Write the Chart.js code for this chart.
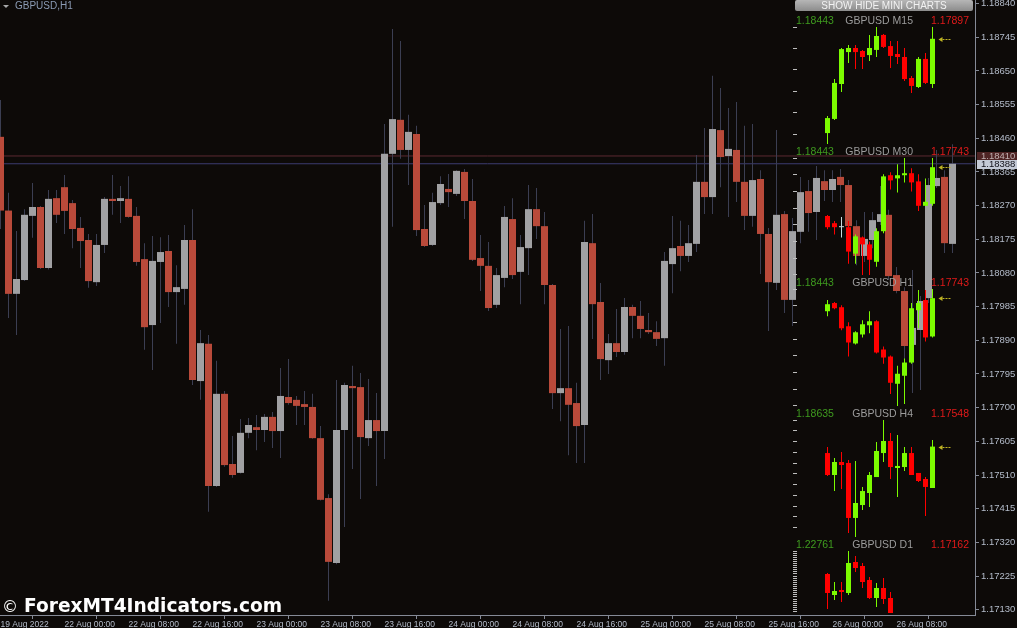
<!DOCTYPE html>
<html>
<head>
<meta charset="utf-8">
<title>GBPUSD,H1</title>
<script src="https://cdn.jsdelivr.net/npm/chart.js@4.4.1/dist/chart.umd.min.js"></script>
<style>
  html, body { margin: 0; padding: 0; background: #0d0a08; }
  #wrap { position: relative; width: 1017px; height: 628px; overflow: hidden; background: #0d0a08; font-family: "Liberation Sans", Arial, sans-serif; }
  #main { position: absolute; left: 0; top: 0; }
  .mini { position: absolute; left: 790px; width: 185px; overflow: hidden; }
  .mini canvas { position: absolute; left: 0; top: 0; }
  .hdr { position: absolute; font-size: 10.5px; line-height: 12px; white-space: nowrap; }
  .hi { left: 796px; color: #3f9b1f; }
  .nm { right: 104px; color: #9c9c9c; text-align: right; }
  .lo { right: 48px; color: #e21a1a; text-align: right; }
  #btn { position: absolute; left: 795px; top: 0; width: 178px; height: 11px; border-radius: 2px; background: linear-gradient(#b6b6b6, #8c8c8c); color: #f2f2f2; font-size: 10px; line-height: 11px; text-align: center; }
  #title { position: absolute; left: 15px; top: 0px; font-size: 10px; line-height: 12px; color: #8b9bb4; }
  #tri { position: absolute; left: 3px; top: 5px; width: 0; height: 0; border-left: 3px solid transparent; border-right: 3px solid transparent; border-top: 3px solid #a8a8a8; }
  #copy { position: absolute; left: 2px; top: 596px; color: #fff; font-family: "DejaVu Sans", sans-serif; font-size: 16px; line-height: 22px; }
  #wm { position: absolute; left: 24px; top: 595px; color: #fff; font-family: "DejaVu Sans", sans-serif; font-weight: bold; font-size: 18.6px; line-height: 22px; white-space: nowrap; }
</style>
</head>
<body>
<div id="wrap">
  <canvas id="main" width="1017" height="628"></canvas>
  <div id="tri"></div>
  <div id="title">GBPUSD,H1</div>
  <div id="btn">SHOW HIDE MINI CHARTS</div>
  <div id="minis"></div>
  <div id="copy">©</div>
  <div id="wm">ForexMT4Indicators.com</div>
</div>
<script>
// H1 candles, 19 Aug 16:00 .. 26 Aug 15:00
const opens = [
  1.18464, 1.18256, 1.18021, 1.18060, 1.18241, 1.18266, 1.18094, 1.18291, 1.18322, 1.18277,
  1.18207, 1.18173, 1.18054, 1.18159, 1.18289, 1.18283, 1.18289, 1.18241, 1.18119, 1.17933,
  1.18111, 1.18142, 1.18026, 1.18035, 1.18173, 1.17775, 1.17880, 1.17479, 1.17739, 1.17541,
  1.17516, 1.17629, 1.17645, 1.17637, 1.17674, 1.17634, 1.17730, 1.17722, 1.17710, 1.17702,
  1.17614, 1.17445, 1.17262, 1.17637, 1.17761, 1.17758, 1.17614, 1.17665, 1.17634, 1.18416,
  1.18512, 1.18427, 1.18472, 1.18204, 1.18159, 1.18277, 1.18317, 1.18303, 1.18365, 1.18283,
  1.18122, 1.18100, 1.17990, 1.18066, 1.18232, 1.18083, 1.18150, 1.18260, 1.18212, 1.18046,
  1.17741, 1.17755, 1.17713, 1.17651, 1.18164, 1.17998, 1.17834, 1.17882, 1.17857, 1.17984,
  1.17959, 1.17919, 1.17913, 1.17896, 1.18105, 1.18156, 1.18128, 1.18162, 1.18337, 1.18294,
  1.18483, 1.18410, 1.18427, 1.18337, 1.18241, 1.18345, 1.18190, 1.18052, 1.18246, 1.18004,
  1.18196, 1.18311, 1.18252, 1.18339, 1.18314, 1.18351, 1.18328, 1.18212, 1.18128, 1.18173,
  1.18224, 1.18244, 1.18074, 1.18029, 1.17877, 1.17919, 1.18009, 1.18325, 1.18351, 1.18162
];
const highs = [
  1.18568, 1.18306, 1.18198, 1.18260, 1.18334, 1.18269, 1.18314, 1.18314, 1.18356, 1.18286,
  1.18238, 1.18190, 1.18190, 1.18294, 1.18356, 1.18325, 1.18353, 1.18266, 1.18164, 1.18184,
  1.18181, 1.18187, 1.18102, 1.18215, 1.18260, 1.17919, 1.17905, 1.17832, 1.17747, 1.17620,
  1.17668, 1.17671, 1.17679, 1.17682, 1.17688, 1.17812, 1.17837, 1.17733, 1.17747, 1.17739,
  1.17648, 1.17456, 1.17778, 1.17770, 1.17818, 1.17798, 1.17781, 1.17741, 1.18500, 1.18768,
  1.18734, 1.18526, 1.18495, 1.18272, 1.18306, 1.18353, 1.18359, 1.18370, 1.18373, 1.18345,
  1.18187, 1.18167, 1.18094, 1.18269, 1.18291, 1.18187, 1.18328, 1.18320, 1.18252, 1.18049,
  1.17922, 1.17930, 1.17770, 1.18227, 1.18246, 1.18052, 1.17908, 1.17978, 1.18009, 1.17990,
  1.18001, 1.17967, 1.17944, 1.18139, 1.18241, 1.18227, 1.18215, 1.18413, 1.18489, 1.18636,
  1.18602, 1.18545, 1.18562, 1.18495, 1.18500, 1.18370, 1.18207, 1.18483, 1.18255, 1.18235,
  1.18351, 1.18342, 1.18382, 1.18370, 1.18370, 1.18373, 1.18342, 1.18229, 1.18252, 1.18252,
  1.18325, 1.18258, 1.18097, 1.18040, 1.18088, 1.18015, 1.18348, 1.18427, 1.18370, 1.18443
];
const lows = [
  1.18204, 1.17953, 1.17905, 1.18057, 1.18179, 1.18091, 1.18090, 1.18221, 1.18190, 1.18150,
  1.18094, 1.18038, 1.18043, 1.18136, 1.18244, 1.18221, 1.18236, 1.18100, 1.17863, 1.17806,
  1.17939, 1.17984, 1.17880, 1.17990, 1.17764, 1.17722, 1.17406, 1.17476, 1.17533, 1.17502,
  1.17514, 1.17614, 1.17580, 1.17603, 1.17586, 1.17558, 1.17708, 1.17651, 1.17651, 1.17612,
  1.17438, 1.17155, 1.17258, 1.17363, 1.17527, 1.17442, 1.17592, 1.17479, 1.17555, 1.18210,
  1.18402, 1.18328, 1.18184, 1.18153, 1.18156, 1.18272, 1.18266, 1.18297, 1.18232, 1.18114,
  1.18029, 1.17973, 1.17981, 1.18040, 1.18063, 1.17992, 1.18074, 1.18176, 1.17992, 1.17696,
  1.17662, 1.17566, 1.17544, 1.17544, 1.17894, 1.17778, 1.17795, 1.17843, 1.17849, 1.17896,
  1.17896, 1.17908, 1.17874, 1.17818, 1.18023, 1.18085, 1.18111, 1.18139, 1.18246, 1.18246,
  1.18322, 1.18238, 1.18280, 1.18201, 1.18210, 1.18077, 1.17916, 1.18032, 1.17967, 1.17930,
  1.18164, 1.18196, 1.18173, 1.18283, 1.18280, 1.18280, 1.18196, 1.18102, 1.18111, 1.18150,
  1.18215, 1.18060, 1.18023, 1.17834, 1.17741, 1.17750, 1.17995, 1.18320, 1.18136, 1.18136
];
const closes = [
  1.18256, 1.18021, 1.18063, 1.18244, 1.18266, 1.18094, 1.18289, 1.18244, 1.18255, 1.18204,
  1.18170, 1.18057, 1.18159, 1.18289, 1.18283, 1.18291, 1.18238, 1.18111, 1.17927, 1.18114,
  1.18139, 1.18026, 1.18040, 1.18173, 1.17778, 1.17882, 1.17479, 1.17739, 1.17538, 1.17510,
  1.17629, 1.17651, 1.17637, 1.17674, 1.17634, 1.17733, 1.17713, 1.17705, 1.17702, 1.17614,
  1.17440, 1.17265, 1.17637, 1.17764, 1.17755, 1.17617, 1.17665, 1.17634, 1.18416, 1.18514,
  1.18427, 1.18478, 1.18201, 1.18156, 1.18280, 1.18331, 1.18308, 1.18368, 1.18283, 1.18117,
  1.18100, 1.17981, 1.18074, 1.18238, 1.18074, 1.18153, 1.18260, 1.18212, 1.18046, 1.17741,
  1.17755, 1.17708, 1.17648, 1.18167, 1.17992, 1.17837, 1.17882, 1.17857, 1.17984, 1.17959,
  1.17922, 1.17913, 1.17894, 1.18114, 1.18150, 1.18128, 1.18164, 1.18337, 1.18294, 1.18486,
  1.18407, 1.18430, 1.18337, 1.18241, 1.18342, 1.18190, 1.18054, 1.18244, 1.18004, 1.18198,
  1.18308, 1.18249, 1.18348, 1.18314, 1.18345, 1.18328, 1.18212, 1.18128, 1.18176, 1.18229,
  1.18246, 1.18071, 1.18029, 1.17874, 1.17925, 1.18001, 1.18328, 1.18348, 1.18164, 1.18388
];

const timeLabels = [
  '19 Aug 2022', '22 Aug 00:00', '22 Aug 08:00', '22 Aug 16:00', '23 Aug 00:00',
  '23 Aug 08:00', '23 Aug 16:00', '24 Aug 00:00', '24 Aug 08:00', '24 Aug 16:00',
  '25 Aug 00:00', '25 Aug 08:00', '25 Aug 16:00', '26 Aug 00:00', '26 Aug 08:00'
];
const timeTickBars = [0, 8, 16, 24, 32, 40, 48, 56, 64, 72, 80, 88, 96, 104, 112];
const priceTicks = [
  1.18840, 1.18745, 1.18650, 1.18555, 1.18460, 1.18365, 1.18270, 1.18175, 1.18080, 1.17985,
  1.17890, 1.17795, 1.17700, 1.17605, 1.17510, 1.17415, 1.17320, 1.17225, 1.17130
];
const askPrice = 1.18410;
const bidPrice = 1.18388;

// mini charts (last 16 bars of each timeframe)
const miniNames = ['GBPUSD M15', 'GBPUSD M30', 'GBPUSD H1', 'GBPUSD H4', 'GBPUSD D1'];
const miniHigh = [1.18443, 1.18443, 1.18443, 1.18635, 1.22761];
const miniLow = [1.17897, 1.17743, 1.17743, 1.17548, 1.17162];

const m15O = [1.17948, 1.18014, 1.18177, 1.18326, 1.18345, 1.18331, 1.18312, 1.18336, 1.18406, 1.18354, 1.18317, 1.18303, 1.18205, 1.18163, 1.18294, 1.18177];
const m15H = [1.18028, 1.18200, 1.18345, 1.18359, 1.18359, 1.18336, 1.18406, 1.18443, 1.18410, 1.18378, 1.18378, 1.18345, 1.18214, 1.18303, 1.18322, 1.18443];
const m15L = [1.17897, 1.18009, 1.18140, 1.18275, 1.18247, 1.18247, 1.18284, 1.18303, 1.18345, 1.18252, 1.18270, 1.18191, 1.18135, 1.18158, 1.18177, 1.18158];
const m15C = [1.18018, 1.18182, 1.18340, 1.18345, 1.18326, 1.18303, 1.18345, 1.18401, 1.18350, 1.18308, 1.18303, 1.18200, 1.18168, 1.18294, 1.18182, 1.18388];

const m30O = [1.18096, 1.18053, 1.18029, 1.18029, 1.17871, 1.17968, 1.17926, 1.17822, 1.18005, 1.18340, 1.18321, 1.18340, 1.18352, 1.18303, 1.18157, 1.18169];
const m30H = [1.18102, 1.18066, 1.18090, 1.18066, 1.17986, 1.17974, 1.17944, 1.18023, 1.18346, 1.18358, 1.18406, 1.18443, 1.18382, 1.18346, 1.18321, 1.18443];
const m30L = [1.18017, 1.17986, 1.17968, 1.17810, 1.17810, 1.17743, 1.17743, 1.17792, 1.17993, 1.18254, 1.18236, 1.18297, 1.18242, 1.18126, 1.18157, 1.18157];
const m30C = [1.18029, 1.18029, 1.18029, 1.17883, 1.17974, 1.17926, 1.17834, 1.18005, 1.18333, 1.18309, 1.18340, 1.18352, 1.18297, 1.18157, 1.18181, 1.18388];

const h1O = [1.18310, 1.18359, 1.18334, 1.18220, 1.18117, 1.18171, 1.18226, 1.18250, 1.18081, 1.18039, 1.17876, 1.17924, 1.18003, 1.18316, 1.18377, 1.18159];
const h1H = [1.18377, 1.18365, 1.18346, 1.18244, 1.18190, 1.18256, 1.18310, 1.18256, 1.18099, 1.18045, 1.17984, 1.18027, 1.18359, 1.18437, 1.18437, 1.18443];
const h1L = [1.18280, 1.18322, 1.18196, 1.18039, 1.18111, 1.18153, 1.18178, 1.18057, 1.17996, 1.17815, 1.17743, 1.17755, 1.17996, 1.18208, 1.18129, 1.18153];
const h1C = [1.18352, 1.18328, 1.18208, 1.18123, 1.18184, 1.18232, 1.18250, 1.18063, 1.18033, 1.17882, 1.17936, 1.18003, 1.18328, 1.18359, 1.18153, 1.18388];

const h4O = [1.18328, 1.18124, 1.18245, 1.18236, 1.17725, 1.17845, 1.17957, 1.18105, 1.18328, 1.18440, 1.18189, 1.18198, 1.18328, 1.18143, 1.18087, 1.18003];
const h4H = [1.18384, 1.18282, 1.18338, 1.18263, 1.18254, 1.18013, 1.18152, 1.18431, 1.18635, 1.18514, 1.18496, 1.18384, 1.18384, 1.18143, 1.18105, 1.18449];
const h4L = [1.18115, 1.17975, 1.17994, 1.17585, 1.17548, 1.17799, 1.17827, 1.18105, 1.18245, 1.18087, 1.17920, 1.18161, 1.18124, 1.18059, 1.17743, 1.18003];
const h4C = [1.18124, 1.18245, 1.18217, 1.17725, 1.17864, 1.17975, 1.18124, 1.18347, 1.18440, 1.18198, 1.18208, 1.18328, 1.18124, 1.18068, 1.18013, 1.18388];

// only the daily bars above the bottom edge are visible
const d1O = [1.21660, 1.20655, 1.20895, 1.20751, 1.22235, 1.22043, 1.21373, 1.20512, 1.20991, 1.20512];
const d1H = [1.21708, 1.21277, 1.21277, 1.22761, 1.22522, 1.22187, 1.21517, 1.21230, 1.21469, 1.20799];
const d1L = [1.19986, 1.20416, 1.20321, 1.20655, 1.21756, 1.20991, 1.20464, 1.20081, 1.20225, 1.19000];
const d1C = [1.20751, 1.20847, 1.20799, 1.22187, 1.21948, 1.21277, 1.20512, 1.20991, 1.20464, 1.19220];

const BULL = '#a1a1a3', BEAR = '#b94a3a', WICK = '#3b3e52';
const AXIS = '#858a96', LABEL = '#b4bcca';
const M_UP = '#7cfc00', M_DN = '#ff0000', M_FLAT = '#c8dce0';

// bid / ask boxes on the price axis
const priceMarkers = {
  id: 'priceMarkers',
  afterDraw(chart) {
    const ctx = chart.ctx, ys = chart.scales.y, x0 = chart.chartArea.right + 2;
    const marks = [[askPrice, '#4e2424', '#c0b0b0'], [bidPrice, '#c4cad6', '#101018']];
    ctx.save();
    ctx.font = '9.5px "Liberation Sans"';
    ctx.textBaseline = 'middle';
    marks.forEach(([p, bg, fg]) => {
      const py = Math.round(ys.getPixelForValue(p));
      ctx.fillStyle = bg;
      ctx.fillRect(x0, py - 4, 1017 - x0, 9);
      ctx.fillStyle = fg;
      ctx.fillText(p.toFixed(5), x0 + 4, py + 0.5);
    });
    ctx.restore();
  }
};

new Chart(document.getElementById('main'), {
  type: 'bar',
  data: {
    datasets: [
      {
        data: opens.map((o, i) => ({ x: i, y: [o, closes[i]] })),
        backgroundColor: opens.map((o, i) => closes[i] >= o ? BULL : BEAR),
        barThickness: 7, grouped: false, minBarLength: 1, inflateAmount: 0, order: 0
      },
      {
        data: lows.map((l, i) => ({ x: i, y: [l, highs[i]] })),
        backgroundColor: WICK,
        barThickness: 1, grouped: false, inflateAmount: 0, order: 1
      },
      {
        type: 'line', data: [{ x: -5, y: askPrice }, { x: 130, y: askPrice }],
        borderColor: '#5c2a32', borderWidth: 1, pointRadius: 0, order: 2
      },
      {
        type: 'line', data: [{ x: -5, y: bidPrice }, { x: 130, y: bidPrice }],
        borderColor: '#3c3c70', borderWidth: 1, pointRadius: 0, order: 3
      }
    ]
  },
  options: {
    responsive: false,
    animation: false,
    events: [],
    layout: { padding: 0 },
    plugins: { legend: { display: false }, tooltip: { enabled: false } },
    scales: {
      x: {
        type: 'linear', min: -0.0625, max: 121.8125, offset: false, bounds: 'data',
        afterBuildTicks: s => { s.ticks = timeTickBars.map(v => ({ value: v })); },
        afterFit: s => { s.height = 13; s.paddingLeft = 0; s.paddingRight = 0; },
        ticks: {
          align: 'start', maxRotation: 0, autoSkip: false, padding: 1, color: LABEL,
          font: { family: 'Liberation Sans', size: 8.5 },
          callback: (v, i) => timeLabels[i]
        },
        grid: { drawOnChartArea: false, tickLength: 4, color: AXIS },
        border: { color: AXIS }
      },
      y: {
        position: 'right', min: 1.1711508, max: 1.18850, bounds: 'data',
        afterBuildTicks: s => { s.ticks = priceTicks.map(v => ({ value: v })); },
        afterFit: s => { s.width = 42; s.paddingTop = 0; s.paddingBottom = 0; },
        ticks: {
          padding: 2, color: LABEL, font: { family: 'Liberation Sans', size: 9.5 },
          callback: v => v.toFixed(5)
        },
        grid: { drawOnChartArea: false, tickLength: 4, color: AXIS },
        border: { color: AXIS }
      }
    }
  },
  plugins: [priceMarkers]
});

// yellow arrow at the last close of a mini chart
const lastArrow = {
  id: 'lastArrow',
  afterDatasetsDraw(chart) {
    const pts = chart.data.datasets[0].data, last = pts[pts.length - 1];
    const x = chart.scales.x.getPixelForValue(last.x) + 6;
    const y = Math.round(chart.scales.y.getPixelForValue(last.y[1])) + 0.5;
    const ctx = chart.ctx;
    ctx.save();
    ctx.fillStyle = ctx.strokeStyle = '#bfb424';
    ctx.beginPath();
    ctx.moveTo(x, y); ctx.lineTo(x + 4, y - 2.5); ctx.lineTo(x + 4, y + 2.5);
    ctx.closePath(); ctx.fill();
    ctx.lineWidth = 1;
    ctx.setLineDash([2, 1]);
    ctx.beginPath(); ctx.moveTo(x + 4, y); ctx.lineTo(x + 13, y); ctx.stroke();
    ctx.restore();
  }
};

const minis = document.getElementById('minis');
const wrap = document.getElementById('wrap');

function miniChart(n, O, H, L, C, arrow) {
  const top = 27 + n * 131;       // pixel row of the panel's high
  const hi = miniHigh[n], lo = miniLow[n];
  const box = document.createElement('div');
  box.className = 'mini';
  box.style.top = (top - 4) + 'px';
  box.style.height = Math.min(125, 613 - (top - 4)) + 'px';
  const cv = document.createElement('canvas');
  cv.width = 185; cv.height = 125;
  box.appendChild(cv);
  minis.appendChild(box);

  [['hi', hi.toFixed(5)], ['nm', miniNames[n]], ['lo', lo.toFixed(5)]].forEach(([cls, txt]) => {
    const d = document.createElement('div');
    d.className = 'hdr ' + cls;
    d.style.top = (top - 13) + 'px';
    d.textContent = txt;
    wrap.appendChild(d);
  });

  const colors = O.map((o, i) => C[i] > o ? M_UP : (C[i] < o ? M_DN : M_FLAT));
  new Chart(cv, {
    type: 'bar',
    data: {
      datasets: [
        { data: O.map((o, i) => ({ x: i, y: [o, C[i]] })), backgroundColor: colors,
          barThickness: 5, grouped: false, minBarLength: 1, inflateAmount: 0 },
        { data: L.map((l, i) => ({ x: i, y: [l, H[i]] })), backgroundColor: colors,
          barThickness: 1, grouped: false, inflateAmount: 0 }
      ]
    },
    options: {
      responsive: false,
      animation: false,
      events: [],
      layout: { padding: { top: 4, bottom: 4, left: 0, right: 0 } },
      plugins: { legend: { display: false }, tooltip: { enabled: false } },
      scales: {
        x: { type: 'linear', display: false, min: -4.35714, max: 21.07143, offset: false, bounds: 'data' },
        y: {
          position: 'left', min: lo, max: hi, bounds: 'data',
          afterBuildTicks: s => {
            const t = [];
            for (let v = hi; v >= lo - 1e-9; v -= 0.001) t.push({ value: v });
            s.ticks = t;
          },
          afterFit: s => { s.width = 7; s.paddingTop = 0; s.paddingBottom = 0; },
          ticks: { display: false },
          grid: { drawOnChartArea: false, drawTicks: true, tickLength: 4, color: '#bdbdbd' },
          border: { display: false }
        }
      }
    },
    plugins: arrow ? [lastArrow] : []
  });
}

miniChart(0, m15O, m15H, m15L, m15C, true);
miniChart(1, m30O, m30H, m30L, m30C, true);
miniChart(2, h1O, h1H, h1L, h1C, true);
miniChart(3, h4O, h4H, h4L, h4C, true);
miniChart(4, d1O, d1H, d1L, d1C, false);
</script>
</body>
</html>
